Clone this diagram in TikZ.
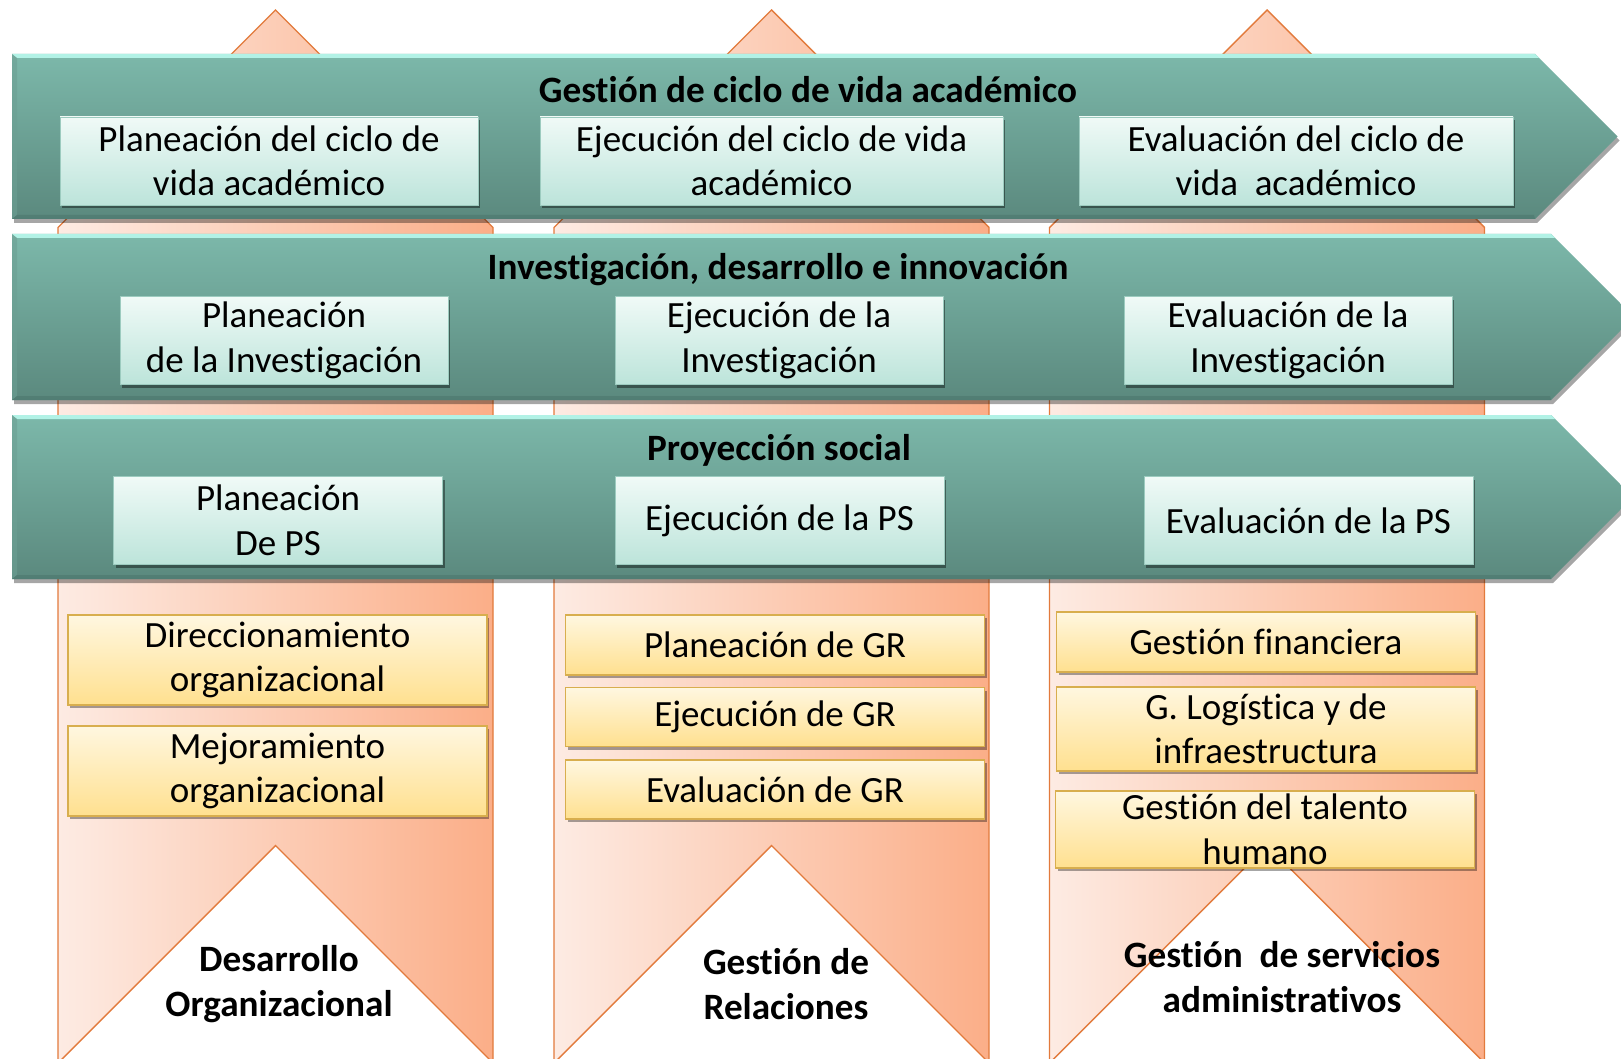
\documentclass[tikz,border=0pt]{standalone}
\usepackage{fontspec}
\setmainfont{Carlito}[Ligatures=NoCommon,RawFeature=-calt;-clig;-dlig]
\usetikzlibrary{shadows}
\definecolor{colLeft}{HTML}{FDEBE3}
\definecolor{colRight}{HTML}{FBAE88}
\definecolor{colEdge}{HTML}{E27A3C}
\definecolor{bandTop}{HTML}{7CB8AA}
\definecolor{bandBot}{HTML}{5B897E}
\definecolor{bandHi}{HTML}{B2F2E6}
\definecolor{bandLeft}{HTML}{6C9F93}
\definecolor{bandDark}{HTML}{4E7970}
\definecolor{tealBoxTop}{HTML}{F0FAF7}
\definecolor{tealBoxBot}{HTML}{BCE4DA}
\definecolor{tealBoxEdge}{HTML}{9CCBBF}
\definecolor{yelTop}{HTML}{FFF7E0}
\definecolor{yelBot}{HTML}{FFE08F}
\definecolor{yelEdge}{HTML}{D8AE4E}
\begin{document}
\begin{tikzpicture}[x=1pt,y=-1pt,
  column/.style={draw=colEdge,line width=1.4pt,left color=colLeft,right color=colRight,line join=miter},
  band/.style={top color=bandTop,bottom color=bandBot,
    drop shadow={shadow xshift=2pt,shadow yshift=-4pt,opacity=0.35,fill=black}},
  tealbox/.style={draw=tealBoxEdge,line width=0.8pt,top color=tealBoxTop,bottom color=tealBoxBot,
    align=center,inner sep=0pt,font=\fontsize{37}{44.5}\selectfont,
    drop shadow={shadow xshift=2pt,shadow yshift=-3pt,opacity=0.4,fill=black}},
  yelbox/.style={draw=yelEdge,line width=1.2pt,top color=yelTop,bottom color=yelBot,
    align=center,inner sep=0pt,font=\fontsize{37}{44.5}\selectfont,
    drop shadow={shadow xshift=2pt,shadow yshift=-3pt,opacity=0.35,fill=black}},
  bandtitle/.style={font=\bfseries\fontsize{37.2}{44}\selectfont,inner sep=0pt},
  collabel/.style={font=\bfseries\fontsize{37.2}{44.5}\selectfont,align=center,inner sep=0pt}
]
\useasboundingbox (0,0) rectangle (1621,1059);
\fill[white] (0,0) rectangle (1621,1059);

% vertical columns (orange chevrons)
\foreach \cx in {275.5,771.5,1267}{
  \path[column] (\cx-217.5,227.5) -- (\cx,10) -- (\cx+217.5,227.5) -- (\cx+217.5,1063)
     -- (\cx,845.5) -- (\cx-217.5,1063) -- cycle;
}

% horizontal bands (teal arrows)
\foreach \yt/\yb/\xs in {54/219/1535, 234/400/1551, 415/579/1551}{
  \pgfmathsetmacro{\ym}{(\yt+\yb)/2}
  \pgfmathsetmacro{\xt}{\xs+(\yb-\yt)/2}
  \path[band] (12,\yt) -- (\xs,\yt) -- (\xt,\ym) -- (\xs,\yb) -- (12,\yb) -- cycle;
  \fill[bandHi] (12,\yt) -- (\xs,\yt) -- (\xs+4,\yt+4) -- (17,\yt+4) -- cycle;
  \fill[bandLeft,opacity=0.6] (12,\yt) -- (17,\yt+4) -- (17,\yb-4) -- (12,\yb) -- cycle;
  \fill[bandDark,opacity=0.7] (12,\yb) -- (17,\yb-4) -- (\xs-1,\yb-4) -- (\xs,\yb) -- cycle;
}

% band titles
\node[bandtitle] (t1) at (808,90) {Gestión de ciclo de vida académico};
\node[bandtitle] (t2) at (778,270) {Investigación, desarrollo e innovación};
\node[bandtitle] (t3) at (779,450) {Proyección social};

% band 1 boxes
\node[tealbox,minimum width=418pt,minimum height=88pt] (a1) at (269,161) {Planeación del ciclo de\\vida académico};
\node[tealbox,minimum width=463pt,minimum height=88pt] (a2) at (771.5,161) {Ejecución del ciclo de vida\\académico};
\node[tealbox,minimum width=434pt,minimum height=88pt] (a3) at (1296,161) {Evaluación del ciclo de\\vida~~académico};

% band 2 boxes
\node[tealbox,minimum width=328pt,minimum height=88pt] (b1) at (284,340.5) {Planeación\\de la Investigación};
\node[tealbox,minimum width=328pt,minimum height=88pt] (b2) at (779,340.5) {Ejecución de la\\Investigación};
\node[tealbox,minimum width=328pt,minimum height=88pt] (b3) at (1288,340.5) {Evaluación de la\\Investigación};

% band 3 boxes
\node[tealbox,minimum width=329pt,minimum height=88pt] (c1) at (278,520.5) {Planeación\\De PS};
\node[tealbox,minimum width=329pt,minimum height=88pt] (c2) at (779.5,520.5) {Ejecución de la PS};
\node[tealbox,minimum width=329pt,minimum height=88pt] (c3) at (1308.5,520.5) {Evaluación de la PS};

% column 1 boxes
\node[yelbox,minimum width=419pt,minimum height=90pt] (d1) at (277.5,660) {Direccionamiento\\organizacional};
\node[yelbox,minimum width=419pt,minimum height=90pt] (d2) at (277.5,771) {Mejoramiento\\organizacional};

% column 2 boxes
\node[yelbox,minimum width=419pt,minimum height=60pt] (e1) at (775,645) {Planeación de GR};
\node[yelbox,minimum width=419pt,minimum height=59pt] (e2) at (775,717) {Ejecución de GR};
\node[yelbox,minimum width=419pt,minimum height=59pt] (e3) at (775,789.5) {Evaluación de GR};

% column 3 boxes
\node[yelbox,minimum width=419pt,minimum height=60pt] (f1) at (1266,642) {Gestión financiera};
\node[yelbox,minimum width=419pt,minimum height=84pt] (f2) at (1266,729) {G. Logística y de\\infraestructura};
\node[yelbox,minimum width=419pt,minimum height=77pt] (f3) at (1265,829.5) {Gestión del talento\\humano};

% column labels
\node[collabel] (g1) at (279,984) {Desarrollo\\Organizacional};
\node[collabel] (g2) at (786,984) {Gestión de\\Relaciones};
\node[collabel] (g3) at (1282,977) {Gestión~~de servicios\\administrativos};
\end{tikzpicture}
\end{document}
